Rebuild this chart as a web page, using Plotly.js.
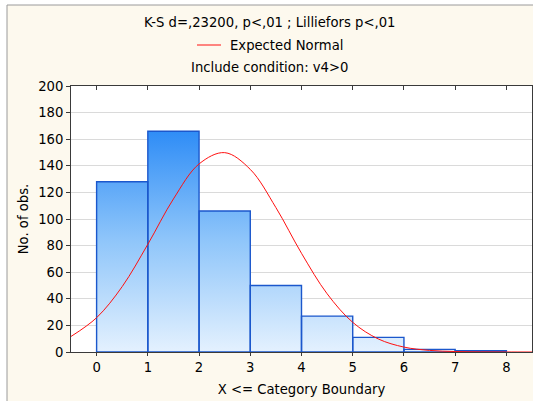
<!DOCTYPE html>
<html>
<head>
<meta charset="utf-8">
<script src="https://cdn.plot.ly/plotly-3.0.1.min.js"></script>
<style>
  html, body { margin: 0; padding: 0; background: #ffffff; }
  #chart { width: 533px; height: 401px; }
</style>
</head>
<body>
<div id="chart"></div>
<script>
// Histogram of v4 (cases with v4>0), bins of width 1 starting at each boundary
const binStarts = [0, 1, 2, 3, 4, 5, 6, 7];
const counts = [128, 166, 106, 50, 27, 11, 2, 1];

// Expected normal frequencies per bin
const normalX = [-0.5, 0, 0.5, 1, 1.5, 2, 2.5, 3, 3.5, 4, 4.5, 5, 5.5, 6, 6.5, 7, 7.5, 8, 8.5];
const normalY = [11.7, 25.8, 49.2, 81.0, 115.1, 141.4, 149.9, 137.3, 108.6, 74.2, 43.8, 22.3, 9.8, 3.7, 1.2, 0.35, 0.1, 0.02, 0.0];

const yTicks = [0, 20, 40, 60, 80, 100, 120, 140, 160, 180, 200];
const xTicks = [0, 1, 2, 3, 4, 5, 6, 7, 8];

const titleLines = [
  'K-S d=,23200, p<,01 ; Lilliefors p<,01',
  'Expected Normal',
  'Include condition: v4>0'
];

const FONT = 'DejaVu Sans, Arial, sans-serif';
const TXT = 13.2;

// Step outline of the histogram, used to paint the vertical gradient
const stepX = binStarts.concat([binStarts[binStarts.length - 1] + 1]);
const stepY = counts.concat([counts[counts.length - 1]]);

const gradientFill = {
  type: 'scatter',
  mode: 'lines',
  x: stepX,
  y: stepY,
  line: { shape: 'hv', width: 0, color: 'rgba(0,0,0,0)' },
  fill: 'tozeroy',
  fillgradient: {
    type: 'vertical',
    start: 0,
    stop: 170,
    colorscale: [[0, '#E4F1FE'], [0.5, '#8EC5FA'], [1, '#2A8AF6']]
  },
  hoverinfo: 'skip',
  showlegend: false
};

// bar outlines live on the overlaying axis so they sit above the gradient
const bars = {
  type: 'bar',
  x: binStarts,
  y: counts,
  xaxis: 'x2',
  width: 1,
  offset: 0,
  marker: { color: 'rgba(255,255,255,0)', line: { color: '#1B57CC', width: 1.4 } },
  showlegend: false
};

const normalCurve = {
  type: 'scatter',
  mode: 'lines',
  name: 'Expected Normal',
  x: normalX,
  y: normalY,
  xaxis: 'x2',
  line: { color: '#FF1010', width: 1, shape: 'spline', smoothing: 1 },
  showlegend: false
};

// pixel helpers for placing text in the frame around the plot
const L = 71, R = 532, T = 86, B = 352;
const px = v => (v - L) / (R - L);
const py = v => (B - v) / (B - T);

const layout = {
  width: 533,
  height: 401,
  margin: { l: L, r: 533 - R, t: T, b: 401 - B, pad: 0 },
  paper_bgcolor: '#ffffff',
  plot_bgcolor: 'rgba(0,0,0,0)',
  font: { family: FONT, size: TXT, color: '#000000' },
  showlegend: false,
  barmode: 'overlay',
  xaxis: {
    range: [-0.5, 8.5],
    tickvals: xTicks,
    ticktext: xTicks.map(String),
    showgrid: false,
    zeroline: false,
    showline: true,
    linecolor: '#3a3a3a',
    linewidth: 1,
    mirror: true,
    ticks: 'outside',
    ticklen: 3,
    tickcolor: '#3a3a3a',
    tickfont: { family: FONT, size: TXT, color: '#000' },
    title: { text: 'X <= Category Boundary', font: { family: FONT, size: TXT, color: '#000' }, standoff: 10 }
  },
  yaxis: {
    range: [0, 200],
    tickvals: yTicks,
    showgrid: true,
    gridcolor: '#DADADA',
    gridwidth: 1,
    zeroline: false,
    showline: true,
    linecolor: '#3a3a3a',
    linewidth: 1,
    mirror: true,
    ticks: 'outside',
    ticklen: 4,
    tickcolor: '#3a3a3a',
    tickfont: { family: FONT, size: TXT, color: '#000' },
    title: { text: 'No. of obs.', font: { family: FONT, size: TXT, color: '#000' }, standoff: 6 }
  },
  xaxis2: {
    overlaying: 'x', side: 'top', anchor: 'y',
    range: [-0.5, 8.5], tickvals: xTicks, showticklabels: false,
    ticks: 'inside', ticklen: 4, tickcolor: '#3a3a3a',
    showgrid: false, zeroline: false, showline: false
  },
  yaxis2: {
    overlaying: 'y', side: 'right', anchor: 'x',
    range: [0, 200], tickvals: yTicks, showticklabels: false,
    ticks: 'inside', ticklen: 4, tickcolor: '#3a3a3a',
    showgrid: false, zeroline: false, showline: false
  },
  shapes: [
    // cream panel behind everything
    { type: 'rect', xref: 'paper', yref: 'paper', layer: 'below',
      x0: px(7), x1: px(545), y0: py(420), y1: py(5),
      fillcolor: '#FDF9EE', line: { color: '#9a9a9a', width: 1 } },
    // white plotting area
    { type: 'rect', xref: 'paper', yref: 'paper', layer: 'below',
      x0: 0, x1: 1, y0: 0, y1: 1,
      fillcolor: '#ffffff', line: { width: 0 } },
    // legend swatch for the normal curve
    { type: 'line', xref: 'paper', yref: 'paper',
      x0: px(197), x1: px(221), y0: py(45), y1: py(45),
      line: { color: '#FF1010', width: 1 } }
  ],
  annotations: [
    { text: titleLines[0], xref: 'paper', yref: 'paper', x: px(269), y: py(23),
      xanchor: 'center', yanchor: 'middle', showarrow: false,
      font: { family: FONT, size: TXT, color: '#000' } },
    { text: titleLines[1], xref: 'paper', yref: 'paper', x: px(228), y: py(45),
      xanchor: 'left', yanchor: 'middle', showarrow: false,
      font: { family: FONT, size: TXT, color: '#000' } },
    { text: titleLines[2], xref: 'paper', yref: 'paper', x: px(269), y: py(67),
      xanchor: 'center', yanchor: 'middle', showarrow: false,
      font: { family: FONT, size: TXT, color: '#000' } }
  ]
};

Plotly.newPlot('chart', [gradientFill, bars, normalCurve], layout, { staticPlot: true, displayModeBar: false });
</script>
</body>
</html>
